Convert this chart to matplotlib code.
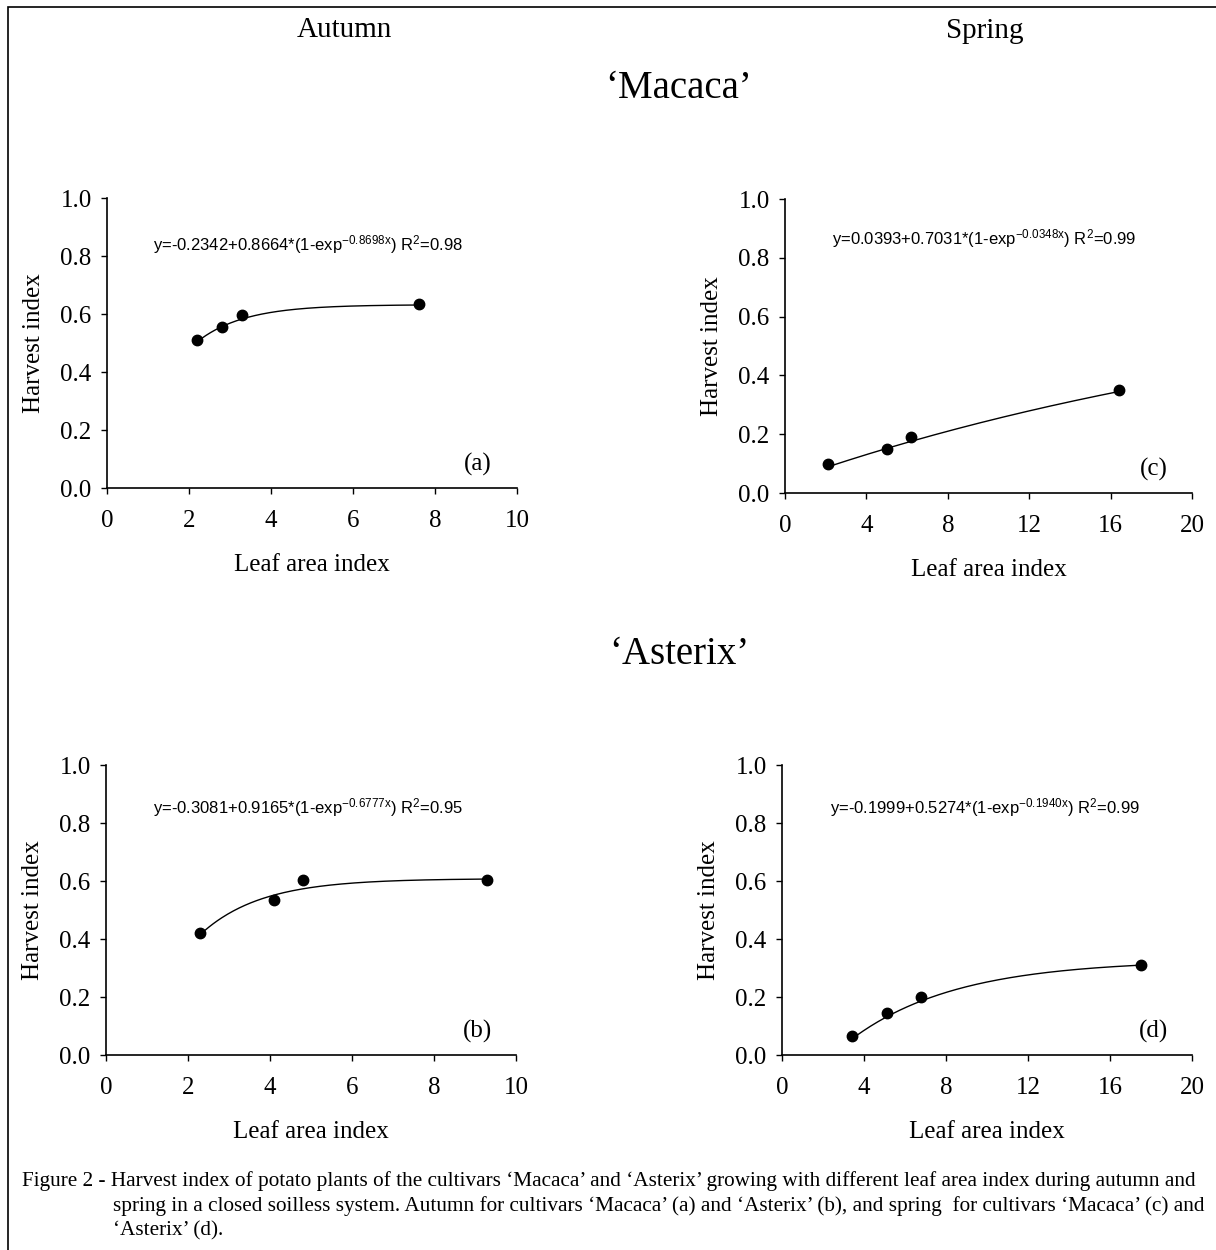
import numpy as np
import matplotlib.pyplot as plt
from matplotlib.patches import Rectangle

plt.rcParams["font.family"] = ["Liberation Serif", "DejaVu Serif"]
plt.rcParams["mathtext.fontset"] = "custom"
plt.rcParams["mathtext.rm"] = "Liberation Sans"
plt.rcParams["mathtext.default"] = "regular"

# measured points (leaf area index, harvest index)
lai_a = [2.2, 2.8, 3.3, 7.6]
hi_a = [0.51, 0.555, 0.598, 0.635]
lai_b = [2.3, 4.1, 4.8, 9.3]
hi_b = [0.42, 0.535, 0.603, 0.605]
lai_c = [2.1, 5.0, 6.2, 16.4]
hi_c = [0.097, 0.148, 0.19, 0.35]
lai_d = [3.4, 5.1, 6.8, 17.5]
hi_d = [0.066, 0.146, 0.20, 0.31]

# fitted model y = a + b*(1-exp(-k*x)), coefficients as printed on the chart
coef_a = (-0.2342, 0.8664, 0.8698, "0.98")
coef_b = (-0.3081, 0.9165, 0.6777, "0.95")
coef_c = (0.0393, 0.7031, 0.0348, "0.99")
coef_d = (-0.1999, 0.5274, 0.1940, "0.99")

W, H = 1216, 1250
fig = plt.figure(figsize=(W / 100, H / 100), dpi=100)

# outer frame
fig.patches.append(Rectangle((8 / W, -0.01), 1.2, 1 - 7 / H + 0.01,
                             transform=fig.transFigure, fill=False,
                             lw=1.2, ec="black"))


def px_axes(left, top, right, bottom):
    return fig.add_axes([left / W, 1 - bottom / H, (right - left) / W,
                         (bottom - top) / H])


panels = [
    (px_axes(107, 198, 517, 488), lai_a, hi_a, coef_a, 10, 2, "(a)",
     (0.112, 0.838)),
    (px_axes(785, 199, 1192, 493), lai_c, hi_c, coef_c, 20, 4, "(c)",
     (0.115, 0.867)),
    (px_axes(106, 765, 516, 1055), lai_b, hi_b, coef_b, 10, 2, "(b)",
     (0.115, 0.852)),
    (px_axes(782, 765, 1192, 1055), lai_d, hi_d, coef_d, 20, 4, "(d)",
     (0.117, 0.852)),
]

for ax, xs, ys, coef, xmax, step, tag, eq_pos in panels:
    a, b, k, r2 = coef
    xf = np.linspace(min(xs), max(xs), 200)
    ax.plot(xf, a + b * (1 - np.exp(-k * xf)), color="black", lw=1.0)
    ax.plot(xs, ys, "o", color="black", ms=7.5, zorder=5)

    ax.set_xlim(0, xmax)
    ax.set_ylim(0, 1.0)
    ax.set_xticks(np.arange(0, xmax + 1, step))
    ax.set_yticks(np.arange(0, 1.01, 0.2))
    ax.set_yticklabels([f"{v:.1f}" for v in np.arange(0, 1.01, 0.2)])
    for s in ("top", "right"):
        ax.spines[s].set_visible(False)
    for s in ("left", "bottom"):
        ax.spines[s].set_linewidth(1.2)
    ax.tick_params(direction="out", length=4, width=1.0, labelsize=18)
    ax.tick_params(axis="x", pad=12)
    ax.tick_params(axis="y", pad=7)
    ax.set_xlabel("Leaf area index", fontsize=18, labelpad=16)
    ax.set_ylabel("Harvest index", fontsize=18, labelpad=11)
    ax.patch.set_alpha(0)

    eq = (f"y={a:.4f}+{b:.4f}*(1-exp$^{{-{k:.4f}x}}$) R$^2$={r2}")
    ax.text(eq_pos[0], eq_pos[1], eq, transform=ax.transAxes,
            family="Liberation Sans", fontsize=12, va="center", ha="left")
    ax.text(0.905, 0.08, tag, transform=ax.transAxes, fontsize=18,
            ha="center", va="center")

fig.text(344 / W, 1 - 30 / H, "Autumn", fontsize=21, ha="center",
         va="center")
fig.text(985 / W, 1 - 31 / H, "Spring", fontsize=21, ha="center",
         va="center")
fig.text(679 / W, 1 - 88 / H, "\u2018Macaca\u2019", fontsize=28,
         ha="center", va="center")
fig.text(679 / W, 1 - 654 / H, "\u2018Asterix\u2019", fontsize=28,
         ha="center", va="center")

caption = [
    (22, 1181, "Figure 2 - Harvest index of potato plants of the cultivars "
     "\u2018Macaca\u2019 and \u2018Asterix\u2019 growing with different "
     "leaf area index during autumn and"),
    (113, 1206, "spring in a closed soilless system. Autumn for cultivars "
     "\u2018Macaca\u2019 (a) and \u2018Asterix\u2019 (b), and spring  for "
     "cultivars \u2018Macaca\u2019 (c) and"),
    (113, 1231, "\u2018Asterix\u2019 (d)."),
]
for x, y, line in caption:
    fig.text(x / W, 1 - y / H, line, fontsize=15.3, ha="left", va="center")

fig.savefig("out.png", dpi=100)
